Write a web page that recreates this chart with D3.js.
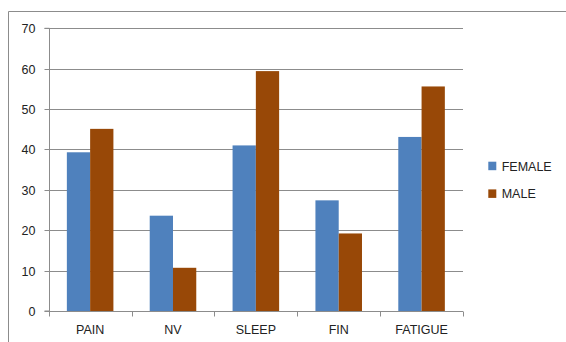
<!DOCTYPE html>
<html><head><meta charset="utf-8">
<script src="https://cdn.jsdelivr.net/npm/d3@7"></script>
<style>body{margin:0;background:#fff}svg{display:block}</style>
</head><body>
<svg id="c" width="566" height="342"></svg>
<script>
const categories = ["PAIN","NV","SLEEP","FIN","FATIGUE"];
const seriesNames = ["FEMALE","MALE"];
const female = [39.3, 23.6, 41.0, 27.4, 43.1];
const male = [45.1, 10.7, 59.4, 19.2, 55.6];
const yTicks = [0,10,20,30,40,50,60,70];
const colors = ["#4F81BD","#984807"];

const svg = d3.select("#c");
const font = "'Liberation Sans', Arial, sans-serif";
const L = 48.7, R = 463, T = 28.3, B = 311;

// outer chart border (top & left visible)
svg.append("path").attr("d","M8.5,342V11.5H566").attr("fill","none").attr("stroke","#8c8c8c").attr("stroke-width",1);

const x = d3.scaleBand().domain(categories).range([L,R]);
const y = d3.scaleLinear().domain([0,70]).range([B,T]);

// gridlines
svg.append("g").selectAll("line").data(yTicks.filter(d=>d>0)).join("line")
  .attr("x1",L).attr("x2",R).attr("y1",d=>Math.round(y(d))+0.5).attr("y2",d=>Math.round(y(d))+0.5)
  .attr("stroke","#8c8c8c").attr("stroke-width",1);

// bars
const inner = d3.scaleBand().domain(seriesNames).range([0,x.bandwidth()]).paddingInner(0).paddingOuter(0.78);
const data = categories.map((c,i)=>({c, vals:[female[i],male[i]]}));
const g = svg.append("g");
data.forEach(d=>{
  d.vals.forEach((v,j)=>{
    g.append("rect")
      .attr("x", x(d.c)+inner(seriesNames[j]))
      .attr("y", y(v))
      .attr("width", inner.bandwidth())
      .attr("height", B - y(v))
      .attr("fill", colors[j]);
  });
});

// y axis
const yAxis = d3.axisLeft(y).tickValues(yTicks).tickSize(5).tickPadding(9);
const ya = svg.append("g").attr("transform",`translate(${Math.round(L)+0.5},0)`).call(yAxis);
ya.selectAll("text").attr("font-family",font).attr("font-size","12.5px").attr("fill","#222");
ya.select(".domain").attr("d",`M-5,${T}H0V${B}H-5`).attr("stroke","#8c8c8c");
ya.selectAll(".tick line").attr("stroke","#8c8c8c");
ya.selectAll(".tick").attr("transform",d=>`translate(0,${Math.round(y(d))+0.5})`);

// x axis
const xAxis = d3.axisBottom(x).tickSize(0).tickPadding(14);
const xa = svg.append("g").attr("transform",`translate(0,${Math.round(B)+0.5})`).call(xAxis);
xa.select(".domain").attr("d",`M${L},0H${R}`).attr("stroke","#8c8c8c");
xa.selectAll("text").attr("font-family",font).attr("font-size","12.5px").attr("fill","#222");
// category boundary ticks
const bounds = categories.map(c=>x(c)).concat([R]);
xa.append("g").selectAll("line").data(bounds).join("line")
  .attr("x1",d=>Math.round(d)+0.5).attr("x2",d=>Math.round(d)+0.5).attr("y1",0).attr("y2",5)
  .attr("stroke","#8c8c8c");

// legend
const leg = svg.append("g");
seriesNames.forEach((s,i)=>{
  const yy = 161.7 + i*27.7;
  leg.append("rect").attr("x",488.3).attr("y",yy).attr("width",8).attr("height",8.5).attr("fill",colors[i]);
  leg.append("text").attr("x",501.7).attr("y",yy+9).attr("font-family",font).attr("font-size","12.5px").attr("fill","#222").text(s);
});
</script>
</body></html>
